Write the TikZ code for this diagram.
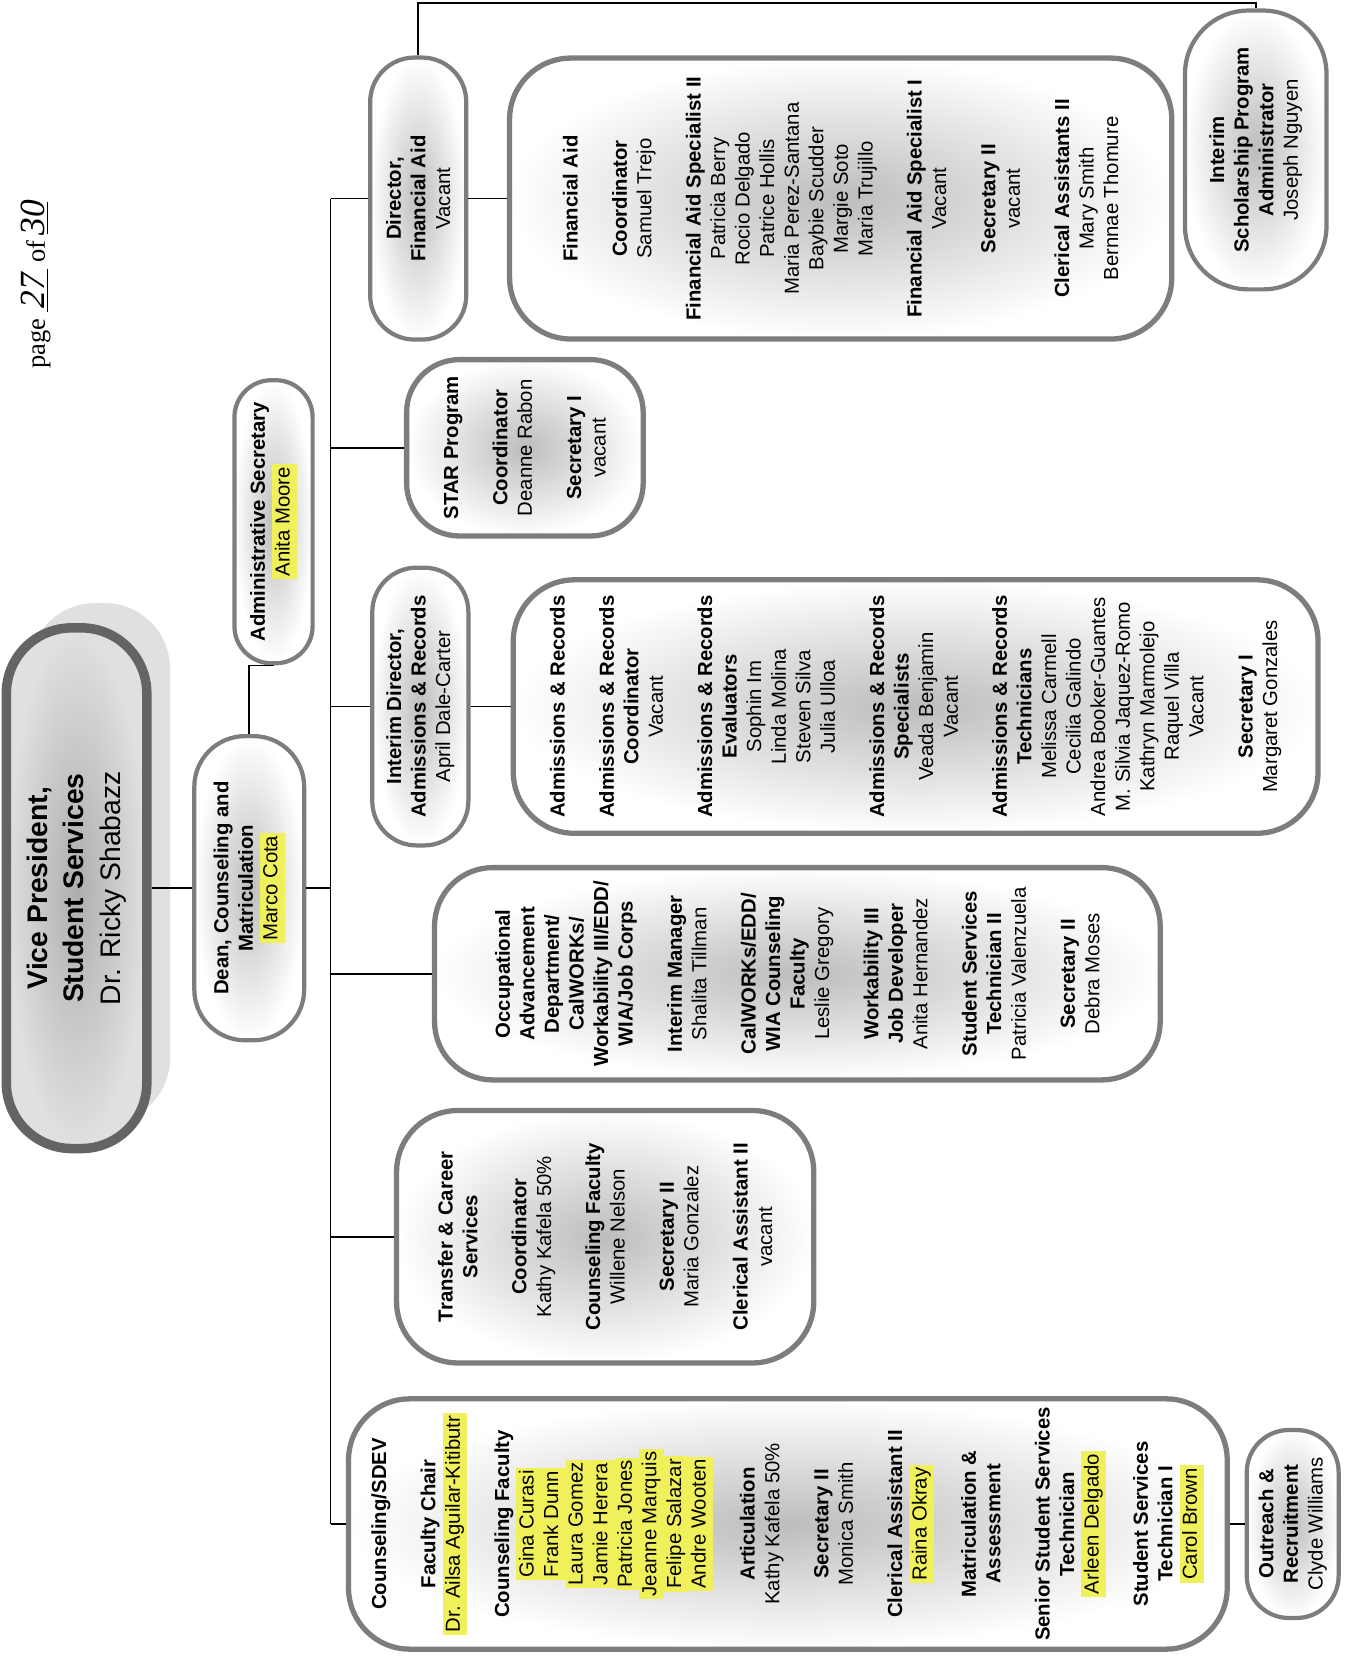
\documentclass[tikz,border=0pt]{standalone}
\usepackage{fontspec}
\setmainfont{Liberation Sans}
\newfontfamily\pagefont{Liberation Serif}

\definecolor{rim}{RGB}{125,125,125}
\definecolor{vprim}{RGB}{100,100,100}
\definecolor{hilite}{RGB}{240,240,90}
\newcommand{\pxu}{0.21mm}
\newcommand{\hlname}[1]{{\setlength{\fboxsep}{0pt}\colorbox{hilite}{\kern1.5pt\strut#1\kern1.5pt}}}
\newcommand{\skipln}{\\[13.9pt]}

\begin{document}
\begin{tikzpicture}[x=0.21mm, y=-0.21mm,
  font=\fontsize{11.5}{13.9}\selectfont,
  link/.style={line width=0.9pt},
  unit/.style={rotate=90, draw=rim, line width=5*\pxu, inner color=black!26, outer color=white,
    align=center, inner sep=0pt, rounded corners=58*\pxu},
  pill/.style={unit, line width=4*\pxu, rounded corners=42*\pxu},
  boxsize/.style 2 args={minimum width=#2*\pxu, minimum height=#1*\pxu}]
\useasboundingbox (0,0) rectangle (1274,1568);

\node[rotate=90, font=\pagefont\fontsize{15}{16}\selectfont] (pagenum) at (34,270)
  {page \underline{\makebox[24pt]{\itshape\fontsize{20}{20}\selectfont 27}} of \underline{\makebox[18pt]{\itshape\fontsize{20}{20}\selectfont 30}}};

% vice president with its shadow
\fill[black!12, rounded corners=62*\pxu] (28,571) rectangle (161,1064);
\node[unit, boxsize={133}{493}, line width=9*\pxu, draw=vprim, inner color=black!32, outer color=black!12,
  rounded corners=62*\pxu, font=\fontsize{16}{20.8}\selectfont] (vp) at (72.5,841)
  {\textbf{Vice President,}\\ \textbf{Student Services}\\ Dr. Ricky Shabazz};

\node[pill, boxsize={104}{288}, rounded corners=48*\pxu] (dean) at (236,841)
  {\textbf{Dean, Counseling and}\\ \textbf{Matriculation}\\ \hlname{Marco Cota}};
\node[pill, boxsize={74}{268}, rounded corners=35*\pxu] (admin) at (259,494)
  {\textbf{Administrative Secretary}\\ \hlname{Anita Moore}};

% financial aid
\node[pill, boxsize={91}{267}] (fadir) at (396,188)
  {\textbf{Director,}\\ \textbf{Financial Aid}\\ Vacant};
\node[unit, boxsize={627}{266}] (fabox) at (796,188)
  {\textbf{Financial Aid}\skipln
   \textbf{Coordinator}\\ Samuel Trejo\skipln
   \textbf{Financial Aid Specialist II}\\ Patricia Berry\\ Rocio Delgado\\ Patrice Hollis\\
   Maria Perez-Santana\\ Baybie Scudder\\ Margie Soto\\ Maria Trujillo\skipln
   \textbf{Financial Aid Specialist I}\\ Vacant\skipln
   \textbf{Secretary II}\\ vacant\skipln
   \textbf{Clerical Assistants II}\\ Mary Smith\\ Bernnae Thomure};
\node[pill, boxsize={134}{264}, rounded corners=60*\pxu] (schol) at (1189,142)
  {\textbf{Interim}\\ \textbf{Scholarship Program}\\ \textbf{Administrator}\\ Joseph Nguyen};

\node[unit, boxsize={224}{167}, rounded corners=50*\pxu] (star) at (497,424)
  {\textbf{STAR Program}\skipln
   \textbf{Coordinator}\\ Deanne Rabon\skipln
   \textbf{Secretary I}\\ vacant};

% admissions
\node[pill, boxsize={91}{263}] (ardir) at (398,669)
  {\textbf{Interim Director,}\\ \textbf{Admissions \& Records}\\ April Dale-Carter};
\node[unit, boxsize={762}{240}] (arbox) at (867,669)
  {\textbf{Admissions \& Records}\skipln
   \textbf{Admissions \& Records}\\ \textbf{Coordinator}\\ Vacant\skipln
   \textbf{Admissions \& Records}\\ \textbf{Evaluators}\\ Sophin Im\\ Linda Molina\\ Steven Silva\\ Julia Ulloa\skipln
   \textbf{Admissions \& Records}\\ \textbf{Specialists}\\ Veada Benjamin\\ Vacant\skipln
   \textbf{Admissions \& Records}\\ \textbf{Technicians}\\ Melissa Carmell\\ Cecilia Galindo\\
   Andrea Booker-Guantes\\ M. Silvia Jaquez-Romo\\ Kathryn Marmolejo\\ Raquel Villa\\ Vacant\skipln
   \textbf{Secretary I}\\ Margaret Gonzales};

\node[unit, boxsize={687}{201}, rounded corners=55*\pxu] (occ) at (755,922)
  {\textbf{Occupational}\\ \textbf{Advancement}\\ \textbf{Department/}\\ \textbf{CalWORKs/}\\
   \textbf{Workability III/EDD/}\\ \textbf{WIA/Job Corps}\skipln
   \textbf{Interim Manager}\\ Shalita Tillman\skipln
   \textbf{CalWORKs/EDD/}\\ \textbf{WIA Counseling}\\ \textbf{Faculty}\\ Leslie Gregory\skipln
   \textbf{Workability III}\\ \textbf{Job Developer}\\ Anita Hernandez\skipln
   \textbf{Student Services}\\ \textbf{Technician II}\\ Patricia Valenzuela\skipln
   \textbf{Secretary II}\\ Debra Moses};

\node[unit, boxsize={395}{239}] (trans) at (573,1171)
  {\textbf{Transfer \& Career}\\ \textbf{Services}\skipln
   \textbf{Coordinator}\\ Kathy Kafela 50\%\skipln
   \textbf{Counseling Faculty}\\ Willene Nelson\skipln
   \textbf{Secretary II}\\ Maria Gonzalez\skipln
   \textbf{Clerical Assistant II}\\ vacant};

% counseling
\node[unit, boxsize={832}{237}] (couns) at (746,1443)
  {\textbf{Counseling/SDEV}\skipln
   \textbf{Faculty Chair}\\ \hlname{Dr. Ailsa Aguilar-Kitibutr}\skipln
   \textbf{Counseling Faculty}\\ \hlname{Gina Curasi}\\ \hlname{Frank Dunn}\\ \hlname{Laura Gomez}\\
   \hlname{Jamie Herera}\\ \hlname{Patricia Jones}\\ \hlname{Jeanne Marquis}\\ \hlname{Felipe Salazar}\\
   \hlname{Andre Wooten}\skipln
   \textbf{Articulation}\\ Kathy Kafela 50\%\skipln
   \textbf{Secretary II}\\ Monica Smith\skipln
   \textbf{Clerical Assistant II}\\ \hlname{Raina Okray}\skipln
   \textbf{Matriculation \&}\\ \textbf{Assessment}\skipln
   \textbf{Senior Student Services}\\ \textbf{Technician}\\ \hlname{Arleen Delgado}\skipln
   \textbf{Student Services}\\ \textbf{Technician I}\\ \hlname{Carol Brown}};
\node[pill, boxsize={87}{178}, rounded corners=40*\pxu] (outr) at (1224,1443)
  {\textbf{Outreach \&}\\ \textbf{Recruitment}\\ Clyde Williams};

% connectors
\coordinate (trunk) at (313,0);
\coordinate (topline) at (0,3);
\draw[link] (vp.south) -- (dean.north);
\draw[link] (dean.east) |- (admin.west);
\draw[link] (dean.south) -- (dean.south -| trunk);
\draw[link] (trunk |- fadir.north) -- (trunk |- couns.north);
\foreach \n in {fadir,star,ardir,occ,trans,couns}
  \draw[link] (trunk |- \n.north) -- (\n.north);
\draw[link] (fadir.south) -- (fabox.north);
\draw[link] (ardir.south) -- (arbox.north);
\draw[link] (couns.south) -- (outr.north);
\draw[link] (fadir.east) -- (fadir.east |- topline) -| (schol.east);
\end{tikzpicture}
\end{document}
